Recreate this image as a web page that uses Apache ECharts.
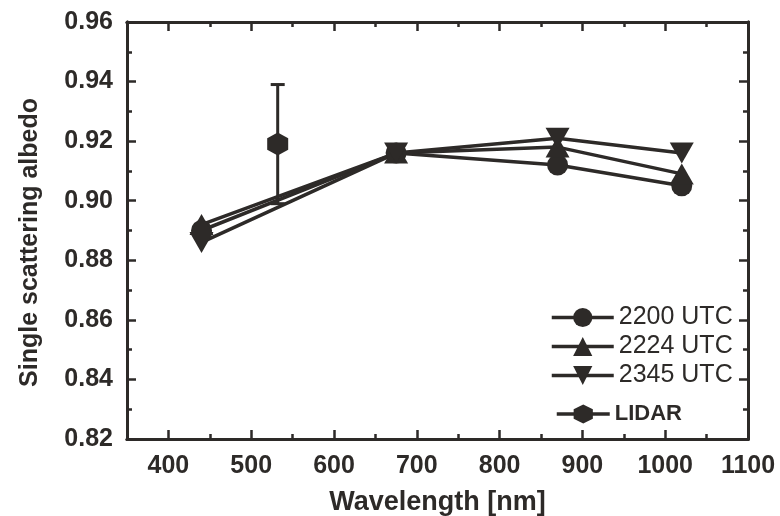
<!DOCTYPE html>
<html>
<head>
<meta charset="utf-8">
<script src="https://cdn.jsdelivr.net/npm/echarts@6/dist/echarts.min.js"></script>
<style>
  html, body { margin: 0; padding: 0; background: #ffffff; }
  #chart { width: 780px; height: 516px; }
</style>
</head>
<body>
<div id="chart"></div>
<script>
// Wavelengths of the sun-photometer channels (nm)
const wavelengths = [440, 675, 870, 1020];
// Single scattering albedo retrieved at three times
const ssa2200 = [0.890, 0.916, 0.912, 0.905];
const ssa2224 = [0.892, 0.916, 0.918, 0.909];
const ssa2345 = [0.886, 0.916, 0.921, 0.916];
// Lidar estimate at 532 nm with its uncertainty
const lidarWavelength = [532];
const lidarSsa = [0.919];
const lidarErr = [0.020];

// Axis ticks
const xMajorTicks = [400, 500, 600, 700, 800, 900, 1000, 1100];
const xMinorTicks = [350, 450, 550, 650, 750, 850, 950, 1050];
const yMajorTicks = [0.82, 0.84, 0.86, 0.88, 0.90, 0.92, 0.94, 0.96];
const yMinorTicks = [0.83, 0.85, 0.87, 0.89, 0.91, 0.93, 0.95];

const INK = '#2d2a28';
const FONT = '"Liberation Sans", Arial, sans-serif';
const hexagon = 'path://M0,-1 L0.866,-0.5 L0.866,0.5 L0,1 L-0.866,0.5 L-0.866,-0.5 Z';

const pairs = ys => wavelengths.map((w, i) => [w, ys[i]]);

const frameAxisLine = { show: true, onZero: false, lineStyle: { color: INK, width: 3 } };

function xAxisDef(position, ticks, len, labels) {
  return {
    type: 'value', position, min: 350, max: 1100,
    axisLine: frameAxisLine,
    axisTick: { show: true, inside: true, length: len, customValues: ticks,
                lineStyle: { color: INK, width: 2.5 } },
    axisLabel: labels ? {
      show: true, customValues: xMajorTicks, margin: 15,
      color: INK, fontFamily: FONT, fontWeight: 'bold', fontSize: 25,
      formatter: v => String(v)
    } : { show: false },
    splitLine: { show: false }
  };
}
function yAxisDef(position, ticks, len, labels) {
  return {
    type: 'value', position, min: 0.82, max: 0.96,
    axisLine: frameAxisLine,
    axisTick: { show: true, inside: true, length: len, customValues: ticks,
                lineStyle: { color: INK, width: 2.5 } },
    axisLabel: labels ? {
      show: true, customValues: yMajorTicks, margin: 14,
      color: INK, fontFamily: FONT, fontWeight: 'bold', fontSize: 25,
      formatter: v => v.toFixed(2)
    } : { show: false },
    splitLine: { show: false }
  };
}

const xAxes = [
  Object.assign(xAxisDef('bottom', xMajorTicks, 9, true), {
    name: 'Wavelength [nm]', nameLocation: 'middle', nameGap: 50,
    nameTextStyle: { color: INK, fontFamily: FONT, fontWeight: 'bold', fontSize: 27,
                     verticalAlign: 'top' }
  }),
  xAxisDef('bottom', xMinorTicks, 5, false),
  xAxisDef('top', xMajorTicks, 9, false),
  xAxisDef('top', xMinorTicks, 5, false)
];
const yAxes = [
  Object.assign(yAxisDef('left', yMajorTicks, 9, true), {
    name: 'Single scattering albedo', nameLocation: 'middle', nameGap: 84,
    nameTextStyle: { color: INK, fontFamily: FONT, fontWeight: 'bold', fontSize: 25,
                     padding: [0, 24, 0, 0] }
  }),
  yAxisDef('left', yMinorTicks, 5, false),
  yAxisDef('right', yMajorTicks, 9, false),
  yAxisDef('right', yMinorTicks, 5, false)
];

function lineSeries(name, ys, symbol, size, rotate) {
  return {
    name, type: 'line', data: pairs(ys),
    symbol, symbolSize: size, symbolRotate: rotate || 0, showSymbol: true,
    lineStyle: { color: INK, width: 3.5 },
    itemStyle: { color: INK, borderWidth: 0 },
    z: 3, animation: false
  };
}

const chart = echarts.init(document.getElementById('chart'), null, { renderer: 'canvas' });
chart.setOption({
  animation: false,
  backgroundColor: '#ffffff',
  grid: { left: 127, right: 32, top: 22, bottom: 77, containLabel: false, outerBoundsMode: 'none' },
  xAxis: xAxes,
  yAxis: yAxes,
  legend: [
    {
      data: ['2200 UTC', '2224 UTC', '2345 UTC'],
      orient: 'vertical', left: 545, top: 300,
      itemWidth: 62, itemHeight: 24, itemGap: 4,
      lineStyle: { width: 3.5 },
      textStyle: { color: INK, fontFamily: FONT, fontSize: 25, lineHeight: 22 },
      selectedMode: false
    },
    {
      data: ['LIDAR'],
      orient: 'vertical', left: 550, top: 398,
      itemWidth: 53, itemHeight: 24,
      lineStyle: { width: 3.5 },
      textStyle: { color: INK, fontFamily: FONT, fontWeight: 'bold', fontSize: 22 },
      selectedMode: false
    }
  ],
  series: [
    lineSeries('2200 UTC', ssa2200, 'circle', 21),
    lineSeries('2224 UTC', ssa2224, 'triangle', [24, 21]),
    lineSeries('2345 UTC', ssa2345, 'triangle', [24, 21], 180),
    {
      // vertical uncertainty bar with end caps
      type: 'custom', name: 'LIDAR error',
      data: lidarWavelength.map((w, i) => [w, lidarSsa[i] - lidarErr[i], lidarSsa[i] + lidarErr[i]]),
      renderItem: (params, api) => {
        const lo = api.coord([api.value(0), api.value(1)]);
        const hi = api.coord([api.value(0), api.value(2)]);
        const cap = 7;
        const style = { stroke: INK, lineWidth: 3 };
        return {
          type: 'group',
          children: [
            { type: 'line', shape: { x1: lo[0], y1: lo[1], x2: hi[0], y2: hi[1] }, style },
            { type: 'line', shape: { x1: hi[0] - cap, y1: hi[1], x2: hi[0] + cap, y2: hi[1] }, style },
            { type: 'line', shape: { x1: lo[0] - cap, y1: lo[1], x2: lo[0] + cap, y2: lo[1] }, style }
          ]
        };
      },
      z: 2, animation: false
    },
    {
      name: 'LIDAR', type: 'line',
      data: lidarWavelength.map((w, i) => [w, lidarSsa[i]]),
      symbol: hexagon, symbolSize: [21, 23], symbolKeepAspect: false,
      lineStyle: { color: INK, width: 3.5 },
      itemStyle: { color: INK },
      z: 4, animation: false
    }
  ]
});
</script>
</body>
</html>
